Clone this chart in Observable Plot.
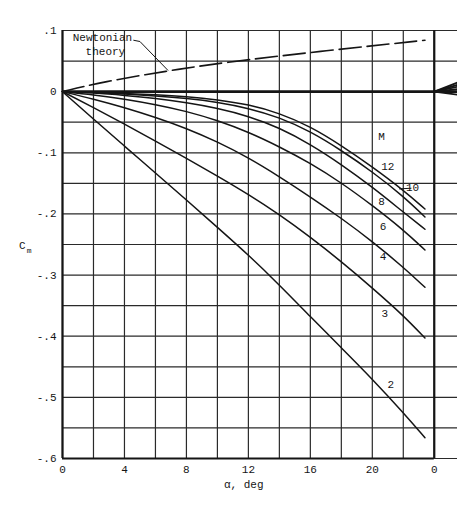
<!DOCTYPE html>
<html><head><meta charset="utf-8">
<script src="https://cdn.jsdelivr.net/npm/d3@7"></script>
<script src="https://cdn.jsdelivr.net/npm/@observablehq/plot@0.6"></script>
<style>body{margin:0;background:#fff}#chart svg{display:block}</style>
</head><body><div id="chart"></div>
<script>
// angle of attack, deg
const alphaDeg = [0, 2, 4, 6, 8, 10, 12, 14, 16, 18, 20, 22, 23.4];
// Cm for each Mach number
const machs = [2, 3, 4, 6, 8, 10, 12];
const cmM2  = [0, -0.045, -0.089, -0.133, -0.177, -0.222, -0.267, -0.316, -0.368, -0.419, -0.470, -0.525, -0.566];
const cmM3  = [0, -0.026, -0.053, -0.081, -0.109, -0.138, -0.168, -0.201, -0.238, -0.278, -0.321, -0.366, -0.403];
const cmM4  = [0, -0.012, -0.026, -0.042, -0.060, -0.082, -0.108, -0.139, -0.172, -0.207, -0.245, -0.287, -0.320];
const cmM6  = [0, -0.005, -0.012, -0.021, -0.032, -0.047, -0.066, -0.090, -0.117, -0.149, -0.186, -0.226, -0.259];
const cmM8  = [0, -0.002, -0.006, -0.011, -0.018, -0.027, -0.040, -0.059, -0.086, -0.119, -0.156, -0.197, -0.225];
const cmM10 = [0, -0.001, -0.004, -0.007, -0.011, -0.017, -0.027, -0.042, -0.065, -0.096, -0.131, -0.171, -0.205];
const cmM12 = [0, -0.001, -0.003, -0.005, -0.008, -0.013, -0.021, -0.035, -0.057, -0.088, -0.123, -0.161, -0.192];
const cmSeries = [cmM2, cmM3, cmM4, cmM6, cmM8, cmM10, cmM12];

// Newtonian theory (dashed)
const newtAlpha = [0, 2.6, 6.8, 10.2, 16.6, 23.4];
const newtCm    = [0, 0.016, 0.034, 0.047, 0.066, 0.084];

// start of the adjoining panel at the right edge
const nextAlpha = [24, 25.5];
const nextEnds  = [0.015, 0.011, 0.008, 0.004, -0.005];

// curve labels
const labelText  = ["M", "12", "10", "8", "6", "4", "3", "2"];
const labelAlpha = [20.6, 21.0, 22.6, 20.6, 20.7, 20.7, 20.8, 21.2];
const labelCm    = [-0.074, -0.123, -0.157, -0.179, -0.22, -0.27, -0.362, -0.479];

// grid and ticks
const gridXVals = [0, 2, 4, 6, 8, 10, 12, 14, 16, 18, 20, 22, 24];
const gridYVals = [-0.6, -0.55, -0.5, -0.45, -0.4, -0.35, -0.3, -0.25, -0.2, -0.15, -0.1, -0.05, 0, 0.05, 0.1];
const xTicks = [0, 4, 8, 12, 16, 20, 24];
const xTickLabels = ["0", "4", "8", "12", "16", "20", "0"];
const yTicks = [0.1, 0, -0.1, -0.2, -0.3, -0.4, -0.5, -0.6];
const yTickLabels = [".1", "0", "-.1", "-.2", "-.3", "-.4", "-.5", "-.6"];

const curves = [];
machs.forEach((m, i) => alphaDeg.forEach((a, j) => curves.push({M: m, a, cm: cmSeries[i][j]})));
const newt = newtAlpha.map((a, i) => ({a, cm: newtCm[i]}));
const wedge = [];
nextEnds.forEach((e, k) => { wedge.push({k, a: nextAlpha[0], cm: 0}); wedge.push({k, a: nextAlpha[1], cm: e}); });
const labels = labelText.map((t, i) => ({t, a: labelAlpha[i], cm: labelCm[i]}));

const font = "Liberation Mono, DejaVu Sans Mono, monospace";
const ink = "#151515";

const chart = Plot.plot({
  width: 457, height: 510,
  marginLeft: 62, marginRight: 0, marginTop: 30, marginBottom: 52,
  style: {fontFamily: font, fontSize: "11px", color: ink, background: "#fff"},
  x: {domain: [0, 25.5], axis: null},
  y: {domain: [-0.6, 0.1], axis: null},
  marks: [
    Plot.ruleX(gridXVals, {x: d => d, y1: -0.6, y2: 0.1, stroke: "#2a2a2a", strokeWidth: 1.2}),
    Plot.ruleY(gridYVals, {y: d => d, x1: 0, x2: 25.5, stroke: "#2a2a2a", strokeWidth: 1.2}),
    Plot.ruleX([0, 24], {x: d => d, y1: -0.6, y2: 0.1, stroke: ink, strokeWidth: 2.2}),
    Plot.ruleY([-0.6], {y: d => d, x1: 0, x2: 24, stroke: ink, strokeWidth: 2}),
    Plot.ruleY([0], {y: d => d, x1: 0, x2: 25.5, stroke: ink, strokeWidth: 2.6}),
    Plot.line(wedge, {x: "a", y: "cm", z: "k", stroke: ink, strokeWidth: 1.8}),
    Plot.line(curves, {x: "a", y: "cm", z: "M", curve: "basis", stroke: ink, strokeWidth: 1.5}),
    Plot.line(newt, {x: "a", y: "cm", curve: "basis", stroke: ink, strokeWidth: 1.6, strokeDasharray: "22,6"}),
    // leader lines
    Plot.line([{a: 4.6, cm: 0.084}, {a: 5.0, cm: 0.082}, {a: 6.8, cm: 0.035}], {x: "a", y: "cm", stroke: ink, strokeWidth: 1}),
    Plot.line([{a: 21.75, cm: -0.159}, {a: 22.5, cm: -0.158}], {x: "a", y: "cm", stroke: ink, strokeWidth: 1}),
    Plot.text(labels, {x: "a", y: "cm", text: "t", textAnchor: d => d.t === "10" ? "start" : "middle", fontSize: 11, fill: ink}),
    Plot.text(["Newtonian"], {x: 2.58, y: 0.0885, text: d => d, fontSize: 11, fill: ink}),
    Plot.text(["theory"], {x: 2.77, y: 0.0656, text: d => d, fontSize: 11, fill: ink}),
    // axes
    Plot.text(xTicks, {x: d => d, y: -0.6, dy: 11, text: (d, i) => xTickLabels[i], fontSize: 11, fill: ink}),
    Plot.text(yTicks, {x: 0, y: d => d, dx: -6, textAnchor: "end", text: (d, i) => yTickLabels[i], fontSize: 11, fill: ink}),
    Plot.text(["α, deg"], {x: 11.7, y: -0.643, text: d => d, fontSize: 11, fill: ink}),
    Plot.text(["C"], {x: -2.6, y: -0.251, text: d => d, fontSize: 11, fill: ink}),
    Plot.text(["m"], {x: -2.15, y: -0.259, text: d => d, fontSize: 8, fill: ink})
  ]
});
document.getElementById("chart").appendChild(chart);
</script>
</body></html>
